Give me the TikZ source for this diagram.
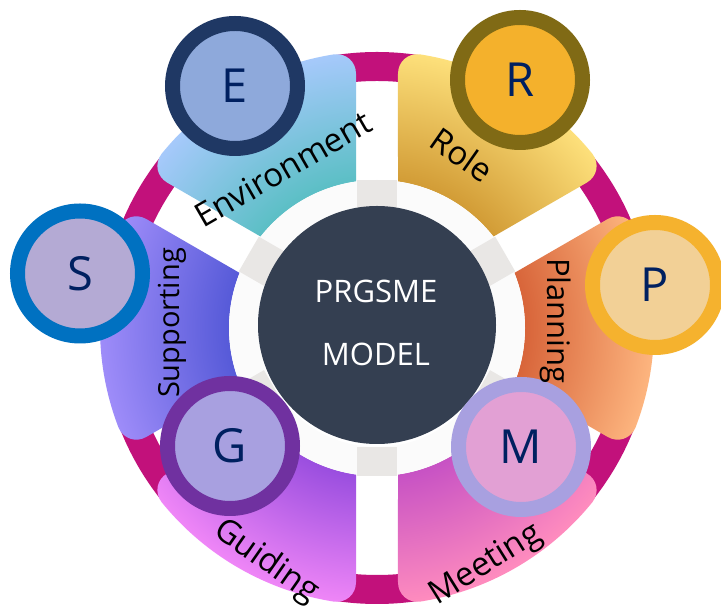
\documentclass[tikz,border=0pt]{standalone}
\usepackage{fontspec}
\setmainfont{Open Sans}
\usetikzlibrary{calc}
\definecolor{ringc}{HTML}{C2117B}
\definecolor{darkc}{HTML}{343F51}
\definecolor{navy}{HTML}{002060}
\definecolor{envin}{HTML}{5BBFC5}\definecolor{envout}{HTML}{A6C9FB}
\definecolor{rolein}{HTML}{D29C36}\definecolor{roleout}{HTML}{FDE07B}
\definecolor{planin}{HTML}{D8653A}\definecolor{planout}{HTML}{FDB57F}
\definecolor{meetin}{HTML}{C752C4}\definecolor{meetout}{HTML}{FF8CBE}
\definecolor{guidein}{HTML}{9A4EDF}\definecolor{guideout}{HTML}{EF86F7}
\definecolor{suppin}{HTML}{565AD8}\definecolor{suppout}{HTML}{9E8CF9}
\definecolor{Eb}{HTML}{1F3864}\definecolor{Ef}{HTML}{8EA9DB}
\definecolor{Rb}{HTML}{806A15}\definecolor{Rf}{HTML}{F4B12C}
\definecolor{Pb}{HTML}{F5B22E}\definecolor{Pf}{HTML}{F2D096}
\definecolor{Sb}{HTML}{0071C1}\definecolor{Sf}{HTML}{B4AAD4}
\definecolor{Gb}{HTML}{7031A0}\definecolor{Gf}{HTML}{A8A0E0}
\definecolor{Mb}{HTML}{A8A0E0}\definecolor{Mf}{HTML}{E2A0D4}
\definecolor{spokec}{HTML}{E9E7E5}
\pgfdeclareradialshading{envsh}{\pgfpoint{0bp}{0bp}}{color(0bp)=(envin); color(13.36bp)=(envin); color(25bp)=(envout); color(50bp)=(envout)}
\pgfdeclareradialshading{rolesh}{\pgfpoint{0bp}{0bp}}{color(0bp)=(rolein); color(13.36bp)=(rolein); color(25bp)=(roleout); color(50bp)=(roleout)}
\pgfdeclareradialshading{plansh}{\pgfpoint{0bp}{0bp}}{color(0bp)=(planin); color(13.36bp)=(planin); color(25bp)=(planout); color(50bp)=(planout)}
\pgfdeclareradialshading{meetsh}{\pgfpoint{0bp}{0bp}}{color(0bp)=(meetin); color(13.36bp)=(meetin); color(25bp)=(meetout); color(50bp)=(meetout)}
\pgfdeclareradialshading{guidesh}{\pgfpoint{0bp}{0bp}}{color(0bp)=(guidein); color(13.36bp)=(guidein); color(25bp)=(guideout); color(50bp)=(guideout)}
\pgfdeclareradialshading{suppsh}{\pgfpoint{0bp}{0bp}}{color(0bp)=(suppin); color(13.36bp)=(suppin); color(25bp)=(suppout); color(50bp)=(suppout)}
\newcommand\labfont{\fontsize{33}{33}\selectfont}
\newcommand\letfont{\fontsize{47}{47}\selectfont}
\newcommand\cenfont{\fontsize{31}{31}\selectfont}
\tikzset{
  letcircle/.style={circle, line width=15pt, minimum size=125pt, inner sep=0pt, font=\letfont, text=navy},
  lab/.style={font=\labfont, text=black, inner sep=0pt},
}
\begin{document}
\begin{tikzpicture}[x=1pt,y=1pt]
\useasboundingbox (0,0) rectangle (721,610);
\fill[white] (0,0) rectangle (721,610);
\coordinate (O) at (377,282);
\begin{scope}[shift={(O)}]
  \draw[ringc, line width=29pt] (0,0) circle (261.5);
  \foreach \ph/\sh in {120/envsh,60/rolesh,0/plansh,-60/meetsh,-120/guidesh,180/suppsh}{
    \pgfmathsetmacro\aone{\ph-30+8.157}
    \pgfmathsetmacro\atwo{\ph+30-8.157}
    \pgfmathsetmacro\bone{\ph-30+4.348}
    \pgfmathsetmacro\btwo{\ph+30-4.348}
    \pgfmathsetmacro\cone{\bone+4.55}
    \pgfmathsetmacro\ctwo{\btwo-4.55}
    \coordinate (I1) at (\aone:148);
    \coordinate (I2) at (\atwo:148);
    \coordinate (C1) at (\bone:277);
    \coordinate (C2) at (\btwo:277);
    \coordinate (P1) at ($(C1)!22pt!(I1)$);
    \coordinate (P2) at ($(C2)!22pt!(I2)$);
    \coordinate (Q1) at (\cone:277);
    \coordinate (Q2) at (\ctwo:277);
    \begin{scope}
      \clip (I1) -- (P1) .. controls ($(P1)!0.55!(C1)$) and ($(Q1)!0.55!(C1)$) .. (Q1)
        arc[start angle=\cone, end angle=\ctwo, radius=277]
        .. controls ($(Q2)!0.55!(C2)$) and ($(P2)!0.55!(C2)$) .. (P2)
        -- (I2) arc[start angle=\atwo, end angle=\aone, radius=148] -- cycle;
      \shade[shading=\sh] (0,0) circle (277);
    \end{scope}
  }
  \fill[gray!3, even odd rule] (0,0) circle (148) (0,0) circle (119);
  \foreach \a in {90,30,150,210,270,330}
    \fill[spokec, rotate=\a] (119,-20) rectangle (148,20);
  \fill[darkc] (0,3) circle (119);
\end{scope}
\node[font=\cenfont, text=white, inner sep=0pt] (t1) at (376,318.5) {PRGSME};
\node[font=\cenfont, text=white, inner sep=0pt] (t2) at (376,255.5) {MODEL};

\node[letcircle, draw=Eb, fill=Ef] (E) at (235,524) {E};
\node[letcircle, draw=Rb, fill=Rf] (R) at (520,530) {R};
\node[letcircle, draw=Pb, fill=Pf] (P) at (655,325) {P};
\node[letcircle, draw=Sb, fill=Sf] (S) at (80,336.5) {S};
\node[letcircle, draw=Gb, fill=Gf] (G) at (230,164) {G};
\node[letcircle, draw=Mb, fill=Mf] (M) at (521,163) {M};

\node[lab, rotate=30] (envl) at (283,441) {Environment};
\node[lab, rotate=-35] (rolel) at (462,455) {Role};
\node[lab, rotate=-90, font=\fontsize{31}{31}\selectfont] (planl) at (556,289) {Planning};
\node[lab, rotate=90, font=\fontsize{29}{29}\selectfont] (suppl) at (172,287) {Supporting};
\node[lab, rotate=-35] (guidl) at (266,48) {Guiding};
\node[lab, rotate=32] (meetl) at (486,45) {Meeting};
\end{tikzpicture}
\end{document}
